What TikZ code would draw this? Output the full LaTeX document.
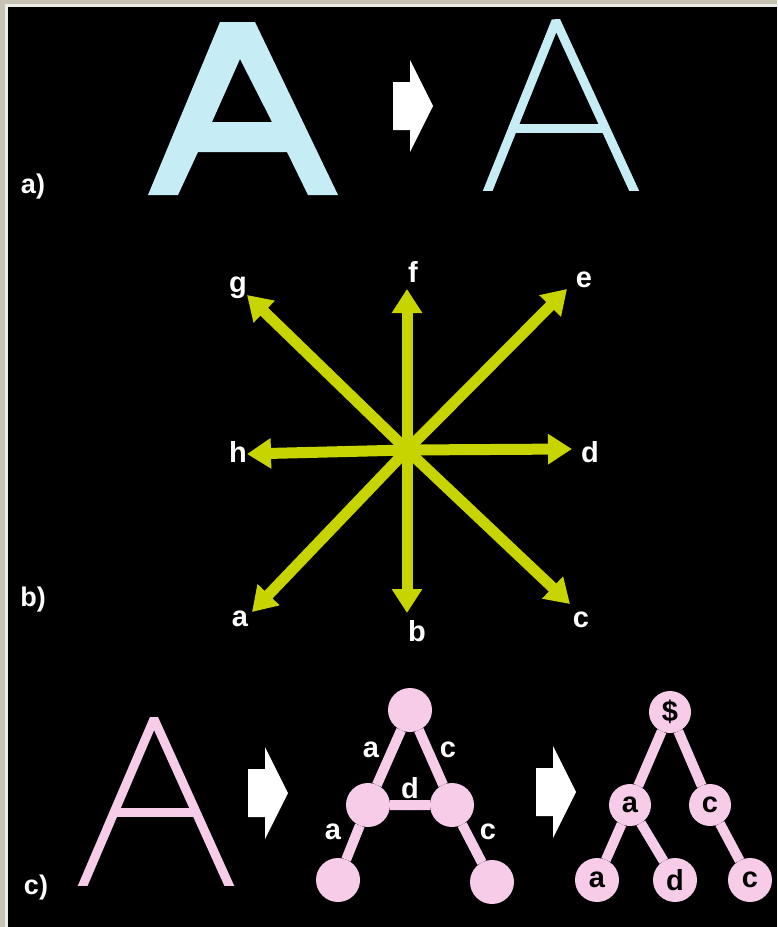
\documentclass[tikz,border=0pt]{standalone}
\usepackage{fontspec}
\setmainfont{Liberation Sans}
\usetikzlibrary{arrows.meta}
\definecolor{framegray}{RGB}{200,194,180}
\definecolor{frameline}{RGB}{236,236,232}
\definecolor{abl}{RGB}{198,236,246}
\definecolor{ygr}{RGB}{200,212,0}
\definecolor{pnk}{RGB}{246,204,232}
\tikzset{
  slbl/.style={text=white,inner sep=0pt,font=\bfseries\fontsize{29}{32}\selectfont},
  plbl/.style={text=white,inner sep=0pt,font=\bfseries\fontsize{29}{32}\selectfont},
  panlbl/.style={text=white,inner sep=0pt,font=\bfseries\fontsize{27}{30}\selectfont},
  starr/.style={ygr,line width=11pt,-{Triangle[width=29pt,length=24pt]}},
  pedge/.style={pnk,line width=10pt},
  vtx/.style={circle,fill=pnk,minimum size=44pt,inner sep=0pt,outer sep=0pt,text=black,font=\bfseries\fontsize{29}{32}\selectfont},
  fatarr/.pic={\fill[white] (0,-24) -- (17,-24) -- (17,-46) -- (40,0) -- (17,46) -- (17,24) -- (0,24) -- cycle;}
}
\begin{document}
\begin{tikzpicture}[x=1pt,y=-1pt]
% frame and background
\useasboundingbox (0,0) rectangle (777,927);
\fill[framegray] (0,0) rectangle (777,927);
\fill[frameline] (5,4) rectangle (777,927);
\fill[black] (8,7) rectangle (777,927);

% ---------- panel a ----------
\node[panlbl] (pa) at (33,187) {a)};
\fill[abl,even odd rule] (148,195) -- (220,22) -- (255,22) -- (338,195) -- (308,195) -- (287,152) -- (198,152) -- (178,195) -- cycle
  (240,59) -- (212,122) -- (272,122) -- cycle;
\pic at (393,106) {fatarr};
\begin{scope}
  \clip (420,0) rectangle (700,190);
  \draw[abl,line width=9pt,line join=bevel] (480,210) -- (556,21) -- (643,210);
  \draw[abl,line width=9pt] (512,128) -- (606,128);
\end{scope}

% ---------- panel b ----------
\node[panlbl] (pb) at (33,600) {b)};
\coordinate (O) at (407,450);
\coordinate (tg) at (247,295);
\coordinate (tf) at (407,289);
\coordinate (te) at (567,289);
\coordinate (th) at (247,454);
\coordinate (td) at (572,449);
\coordinate (ta) at (252,612);
\coordinate (tb) at (407,613);
\coordinate (tc) at (570,604);
\foreach \t in {tg,tf,te,th,td,ta,tb,tc} {\draw[starr] (O) -- (\t);}
\fill[ygr] (O) circle (9pt);
\node[slbl] (lg) at (238,288) {g};
\node[slbl] (lf) at (413,272) {f};
\node[slbl] (le) at (584,280) {e};
\node[slbl] (lh) at (238,452) {h};
\node[slbl] (ld) at (590,452) {d};
\node[slbl] (la) at (240,619) {a};
\node[slbl] (lb) at (417,631) {b};
\node[slbl] (lc) at (581,620) {c};

% ---------- panel c ----------
\node[panlbl] (pc) at (36,888) {c)};
\begin{scope}
  \clip (40,600) rectangle (260,885);
  \draw[pnk,line width=9pt,line join=bevel] (76.6,900) -- (154,719) -- (235.7,900);
  \draw[pnk,line width=9pt] (114,812) -- (196,812);
\end{scope}
\pic at (248,793) {fatarr};
\pic at (536,792) {fatarr};

% graph
\node[vtx] (g1) at (410,710) {};
\node[vtx] (g2) at (368,805) {};
\node[vtx] (g3) at (452,805) {};
\node[vtx] (g4) at (338,880) {};
\node[vtx] (g5) at (492,882) {};
\draw[pedge] (g1) -- (g2) (g1) -- (g3) (g2) -- (g3) (g2) -- (g4) (g3) -- (g5);
\node[plbl] (e1) at (371,750) {a};
\node[plbl] (e2) at (448,750) {c};
\node[plbl] (e3) at (410,788) {d};
\node[plbl] (e4) at (333,832) {a};
\node[plbl] (e5) at (488,832) {c};

% tree
\node[vtx,minimum size=42pt] (r) at (670,712) {\$};
\node[vtx,minimum size=42pt] (ra) at (630,805) {a};
\node[vtx,minimum size=42pt] (rc) at (710,805) {c};
\node[vtx] (raa) at (597,880) {a};
\node[vtx] (rad) at (675,880) {d};
\node[vtx] (rcc) at (750,880) {c};
\draw[pedge] (r) -- (ra) (r) -- (rc) (ra) -- (raa) (ra) -- (rad) (rc) -- (rcc);
\end{tikzpicture}
\end{document}
